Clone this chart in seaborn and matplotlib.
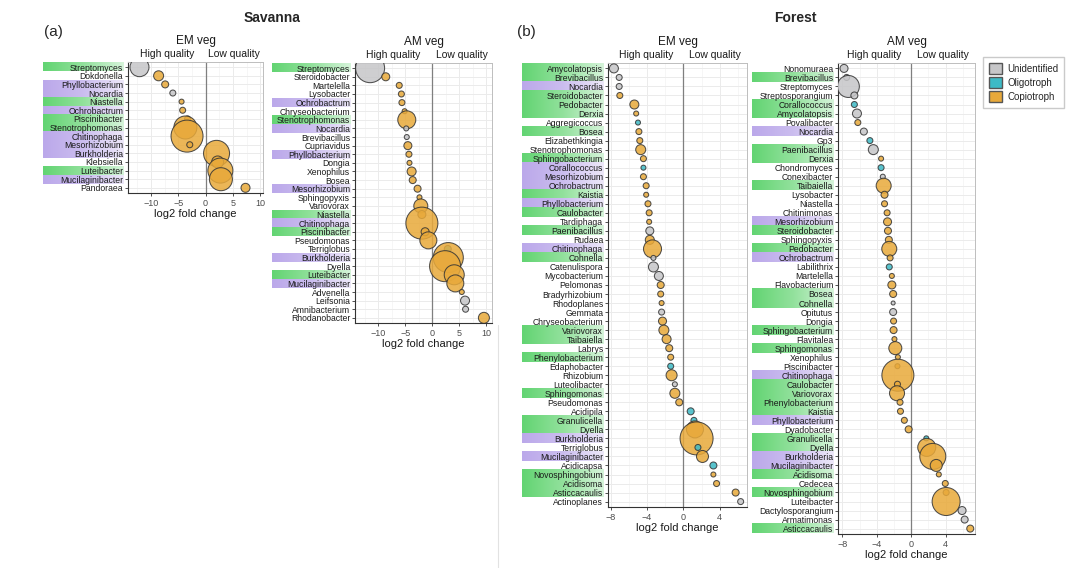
import numpy as np
import pandas as pd
import matplotlib
matplotlib.use("Agg")
import matplotlib.pyplot as plt
from matplotlib.colors import LinearSegmentedColormap
from matplotlib.lines import Line2D
from matplotlib.patches import Patch
import seaborn as sns

# ── Data ─────────────────────────────────────────────────────────────────────
# group: U = Unidentified, O = Oligotroph, C = Copiotroph
# mark : g = green label band, p = purple label band, - = none

SAV_EM_TAXA = ["Streptomyces", "Dokdonella", "Phyllobacterium", "Nocardia", "Niastella",
               "Ochrobactrum", "Piscinibacter", "Stenotrophomonas", "Chitinophaga",
               "Mesorhizobium", "Burkholderia", "Klebsiella", "Luteibacter",
               "Mucilaginibacter", "Pandoraea"]
SAV_EM_LFC = [-12.1, -8.6, -7.4, -6.0, -4.4, -4.2, -3.3, -3.7, -3.4, -2.9, 2.0, 2.2, 2.7, 2.8, 7.3]
SAV_EM_ABUND = [3.61, 1.0, 0.49, 0.36, 0.25, 0.36, 0.36, 5.29, 10.24, 0.36, 6.76, 1.44, 6.25, 5.29, 0.81]
SAV_EM_GROUP = ["U", "C", "C", "U", "C", "C", "C", "C", "C", "C", "C", "C", "C", "C", "C"]
SAV_EM_MARK = ["g", "-", "p", "p", "g", "p", "g", "g", "p", "p", "p", "-", "g", "p", "-"]

SAV_AM_TAXA = ["Streptomyces", "Steroidobacter", "Martelella", "Lysobacter", "Ochrobactrum",
               "Chryseobacterium", "Stenotrophomonas", "Nocardia", "Brevibacillus", "Cupriavidus",
               "Phyllobacterium", "Dongia", "Xenophilus", "Bosea", "Mesorhizobium", "Sphingopyxis",
               "Variovorax", "Niastella", "Chitinophaga", "Piscinibacter", "Pseudomonas",
               "Terriglobus", "Burkholderia", "Dyella", "Luteibacter", "Mucilaginibacter",
               "Advenella", "Leifsonia", "Amnibacterium", "Rhodanobacter"]
SAV_AM_LFC = [-11.5, -8.6, -6.1, -5.7, -5.6, -5.1, -4.7, -4.8, -4.7, -4.5, -4.3, -4.2, -3.8, -3.6,
              -2.7, -2.35, -2.1, -1.9, -1.9, -1.3, -0.7, 2.9, 3.0, 2.4, 4.1, 4.3, 5.5, 6.1, 6.2, 9.6]
SAV_AM_ABUND = [8.41, 0.64, 0.36, 0.36, 0.36, 0.25, 3.24, 0.25, 0.25, 0.64, 0.36, 0.25, 0.81, 0.49,
                0.49, 0.25, 1.96, 0.64, 10.24, 0.64, 2.89, 0.49, 9.0, 9.61, 4.0, 2.89, 0.25, 0.81,
                0.36, 1.21]
SAV_AM_GROUP = ["U", "C", "C", "C", "C", "C", "C", "U", "U", "C", "C", "C", "C", "C", "C", "C",
                "C", "C", "C", "C", "C", "O", "C", "C", "C", "C", "C", "U", "U", "C"]
SAV_AM_MARK = ["g", "-", "-", "-", "p", "-", "g", "p", "-", "-", "p", "-", "-", "-", "p", "-",
               "-", "g", "p", "g", "-", "-", "p", "-", "g", "p", "-", "-", "-", "-"]

FOR_EM_TAXA = ["Amycolatopsis", "Brevibacillus", "Nocardia", "Steroidobacter", "Pedobacter",
               "Derxia", "Aggregicoccus", "Bosea", "Elizabethkingia", "Stenotrophomonas",
               "Sphingobacterium", "Corallococcus", "Mesorhizobium", "Ochrobactrum", "Kaistia",
               "Phyllobacterium", "Caulobacter", "Tardiphaga", "Paenibacillus", "Rudaea",
               "Chitinophaga", "Cohnella", "Catenulispora", "Mycobacterium", "Pelomonas",
               "Bradyrhizobium", "Rhodoplanes", "Gemmata", "Chryseobacterium", "Variovorax",
               "Taibaiella", "Labrys", "Phenylobacterium", "Edaphobacter", "Rhizobium",
               "Luteolibacter", "Sphingomonas", "Pseudomonas", "Acidipila", "Granulicella",
               "Dyella", "Burkholderia", "Terriglobus", "Mucilaginibacter", "Acidicapsa",
               "Novosphingobium", "Acidisoma", "Asticcacaulis", "Actinoplanes"]
FOR_EM_LFC = [-7.65, -7.07, -7.07, -7.0, -5.4, -5.2, -5.0, -4.9, -4.8, -4.7, -4.4, -4.4, -4.4,
              -4.1, -4.1, -3.9, -3.77, -3.77, -3.7, -3.7, -3.4, -3.3, -3.3, -2.7, -2.5, -2.5,
              -2.4, -2.4, -2.3, -2.15, -1.85, -1.56, -1.4, -1.4, -1.3, -0.94, -0.94, -0.46,
              0.8, 1.16, 1.27, 1.45, 1.6, 2.1, 3.3, 3.3, 3.65, 5.75, 6.3]
FOR_EM_ABUND = [0.81, 0.36, 0.36, 0.36, 0.81, 0.25, 0.25, 0.36, 0.36, 1.0, 0.36, 0.25, 0.36,
                0.36, 0.25, 0.36, 0.36, 0.25, 0.64, 0.81, 3.24, 0.25, 1.0, 0.81, 0.49, 0.36,
                0.25, 0.36, 0.64, 1.0, 0.81, 0.49, 0.36, 0.36, 1.21, 0.25, 1.0, 0.49, 0.49,
                0.36, 2.89, 10.89, 0.36, 1.44, 0.49, 0.25, 0.36, 0.49, 0.36]
FOR_EM_GROUP = ["U", "U", "U", "C", "C", "C", "O", "C", "C", "C", "C", "O", "C", "C", "C", "C",
                "C", "C", "U", "C", "C", "U", "U", "U", "C", "C", "C", "U", "C", "C", "C", "C",
                "C", "O", "C", "U", "C", "C", "O", "O", "C", "C", "O", "C", "O", "C", "C", "C", "U"]
FOR_EM_MARK = ["g", "g", "p", "g", "g", "g", "-", "g", "-", "-", "g", "p", "p", "p", "g", "p",
               "g", "-", "g", "-", "p", "g", "-", "-", "-", "-", "-", "-", "-", "g", "g", "-",
               "g", "-", "-", "-", "g", "-", "-", "g", "g", "p", "-", "p", "-", "g", "g", "g", "-"]

FOR_AM_TAXA = ["Nonomuraea", "Brevibacillus", "Streptomyces", "Streptosporangium", "Corallococcus",
               "Amycolatopsis", "Povalibacter", "Nocardia", "Gp3", "Paenibacillus", "Derxia",
               "Chondromyces", "Conexibacter", "Taibaiella", "Lysobacter", "Niastella",
               "Chitinimonas", "Mesorhizobium", "Steroidobacter", "Sphingopyxis", "Pedobacter",
               "Ochrobactrum", "Labilithrix", "Martelella", "Flavobacterium", "Bosea", "Cohnella",
               "Opitutus", "Dongia", "Sphingobacterium", "Flavitalea", "Sphingomonas",
               "Xenophilus", "Piscinibacter", "Chitinophaga", "Caulobacter", "Variovorax",
               "Phenylobacterium", "Kaistia", "Phyllobacterium", "Dyadobacter", "Granulicella",
               "Dyella", "Burkholderia", "Mucilaginibacter", "Acidisoma", "Cedecea",
               "Novosphingobium", "Luteibacter", "Dactylosporangium", "Armatimonas", "Asticcacaulis"]
FOR_AM_LFC = [-7.8, -7.5, -7.3, -6.6, -6.6, -6.3, -6.2, -5.5, -4.8, -4.4, -3.5, -3.5, -3.3, -3.2,
              -3.1, -3.1, -2.8, -2.75, -2.7, -2.6, -2.55, -2.45, -2.55, -2.25, -2.25, -2.1, -2.1,
              -2.1, -2.05, -2.05, -1.95, -1.85, -1.55, -1.6, -1.55, -1.6, -1.65, -1.3, -1.25,
              -0.8, -0.3, 1.75, 1.8, 2.5, 2.9, 3.2, 3.95, 4.05, 4.05, 5.9, 6.2, 6.85]
FOR_AM_ABUND = [0.64, 0.36, 4.84, 0.49, 0.36, 0.81, 0.36, 0.49, 0.36, 1.0, 0.25, 0.36, 0.25,
                2.25, 0.49, 0.36, 0.36, 0.64, 0.49, 0.49, 2.25, 0.36, 0.36, 0.25, 0.64, 0.49,
                0.16, 0.49, 0.36, 0.49, 0.25, 1.69, 0.25, 0.25, 10.24, 0.36, 2.25, 0.36, 0.36,
                0.36, 0.49, 0.25, 3.24, 6.76, 1.44, 0.25, 0.36, 0.36, 7.84, 0.64, 0.49, 0.49]
FOR_AM_GROUP = ["U", "U", "U", "U", "O", "U", "C", "U", "O", "U", "C", "O", "U", "C", "C", "C",
                "C", "C", "C", "C", "C", "C", "O", "C", "C", "C", "U", "U", "C", "C", "C", "C",
                "C", "C", "C", "C", "C", "C", "C", "C", "C", "O", "C", "C", "C", "C", "C", "C",
                "C", "U", "U", "C"]
FOR_AM_MARK = ["-", "g", "-", "-", "g", "g", "-", "p", "-", "g", "g", "-", "-", "g", "-", "-",
               "-", "p", "g", "-", "g", "p", "-", "-", "-", "g", "g", "-", "-", "g", "-", "g",
               "-", "-", "p", "g", "g", "g", "g", "p", "-", "g", "g", "p", "p", "g", "-", "g",
               "-", "-", "-", "g"]

GROUP_NAMES = {"U": "Unidentified", "O": "Oligotroph", "C": "Copiotroph"}
GROUP_COLORS = {"Unidentified": "#c6c6c8", "Oligotroph": "#3dbac6", "Copiotroph": "#e8a93a"}
MARK_CMAPS = {
    "g": LinearSegmentedColormap.from_list("g", ["#62d472", "#92e19c", "#d6f4da"]),
    "p": LinearSegmentedColormap.from_list("p", ["#bba8ea", "#cbbdef", "#ede8f9"]),
}
GRAD = np.linspace(0, 1, 256).reshape(1, -1)

W, H = 1080, 568

sns.set_theme(style="whitegrid")
plt.rcParams["font.family"] = ["Liberation Sans", "DejaVu Sans"]

fig = plt.figure(figsize=(W / 100, H / 100), dpi=100)


def px_rect(x0, y0, x1, y1):
    return [x0 / W, 1 - y1 / H, (x1 - x0) / W, (y1 - y0) / H]


def draw_panel(rect, band_rect, taxa, lfc, abund, group, mark, xlim, major, minor, veg):
    n = len(taxa)
    df = pd.DataFrame({"lfc": lfc, "row": np.arange(n), "abund": abund,
                       "group": [GROUP_NAMES[g] for g in group]})
    ylim = (n - 1 + 0.6, -0.6)

    # coloured bands behind the genus labels
    bg = fig.add_axes(px_rect(*band_rect), zorder=0)
    for i, m in enumerate(mark):
        if m in MARK_CMAPS:
            bg.imshow(GRAD, cmap=MARK_CMAPS[m], extent=(0, 1, i + 0.5, i - 0.5),
                      aspect="auto", interpolation="bicubic")
    bg.set_xlim(0, 1)
    bg.set_ylim(*ylim)
    bg.axis("off")

    ax = fig.add_axes(px_rect(*rect), zorder=1)
    ax.axvline(0, color="#7f7f7f", lw=0.9, zorder=1)
    sns.scatterplot(data=df, x="lfc", y="row", hue="group", palette=GROUP_COLORS,
                    size="abund", sizes=(0, 622), size_norm=(0, 12),
                    edgecolor="#333333", linewidth=0.75, alpha=0.85,
                    legend=False, ax=ax, zorder=3)
    ax.set_xlim(*xlim)
    ax.set_ylim(*ylim)
    ax.set_yticks(np.arange(n))
    ax.set_yticklabels(taxa)
    ax.set_xticks(major)
    ax.set_xticks(minor, minor=True)
    ax.grid(which="major", color="#ebebeb", lw=0.7)
    ax.grid(which="minor", axis="x", color="#f3f3f3", lw=0.5)
    ax.tick_params(axis="y", left=True, length=2.5, width=0.6, color="#333333",
                   labelsize=6.2, pad=1, labelcolor="#1a1a1a")
    ax.tick_params(axis="x", bottom=True, length=2.5, width=0.6, color="#333333",
                   labelsize=6.5, pad=1.5, labelcolor="#4d4d4d")
    ax.tick_params(axis="x", which="minor", length=0)
    for side in ["top", "right"]:
        ax.spines[side].set_color("#bdbdbd")
        ax.spines[side].set_linewidth(0.7)
    for side in ["left", "bottom"]:
        ax.spines[side].set_color("#333333")
        ax.spines[side].set_linewidth(0.8)
    ax.set_ylabel("")
    ax.set_xlabel("log2 fold change", fontsize=8, labelpad=1, color="#1a1a1a")

    for xm, lab in [(xlim[0] / 2, "High quality"), (xlim[1] / 2, "Low quality")]:
        ax.annotate(lab, xy=(xm, 1), xycoords=("data", "axes fraction"), xytext=(0, 2),
                    textcoords="offset points", ha="center", va="bottom", fontsize=7.5,
                    color="#1a1a1a")
    ax.annotate(veg, xy=(0.5, 1), xycoords="axes fraction", xytext=(0, 11),
                textcoords="offset points", ha="center", va="bottom", fontsize=8.5,
                color="#1a1a1a")
    return ax


SAV_MAJOR, SAV_MINOR = [-10, -5, 0, 5, 10], [-12.5, -7.5, -2.5, 2.5, 7.5]
FOR_MAJOR, FOR_MINOR = [-8, -4, 0, 4], [-6, -2, 2, 6]

draw_panel((128, 62, 263, 193), (43, 62, 124, 193), SAV_EM_TAXA, SAV_EM_LFC, SAV_EM_ABUND,
           SAV_EM_GROUP, SAV_EM_MARK, (-14.2, 10.5), SAV_MAJOR, SAV_MINOR, "EM veg")
draw_panel((355, 63, 492, 323), (272, 63, 351, 323), SAV_AM_TAXA, SAV_AM_LFC, SAV_AM_ABUND,
           SAV_AM_GROUP, SAV_AM_MARK, (-14.3, 11.1), SAV_MAJOR, SAV_MINOR, "AM veg")
draw_panel((608, 63, 747, 507), (522, 63, 604, 507), FOR_EM_TAXA, FOR_EM_LFC, FOR_EM_ABUND,
           FOR_EM_GROUP, FOR_EM_MARK, (-8.3, 7.0), FOR_MAJOR, FOR_MINOR, "EM veg")
draw_panel((838, 63, 975, 534), (752, 63, 834, 534), FOR_AM_TAXA, FOR_AM_LFC, FOR_AM_ABUND,
           FOR_AM_GROUP, FOR_AM_MARK, (-8.5, 7.4), FOR_MAJOR, FOR_MINOR, "AM veg")

fig.text(272 / W, 1 - 18 / H, "Savanna", ha="center", va="center", fontsize=10,
         fontweight="bold")
fig.text(795 / W, 1 - 18 / H, "Forest", ha="center", va="center", fontsize=10,
         fontweight="bold")
fig.text(53 / W, 1 - 32 / H, "(a)", ha="center", va="center", fontsize=11)
fig.text(526 / W, 1 - 32 / H, "(b)", ha="center", va="center", fontsize=11)

# faint separator line left over from the original layout
fig.add_artist(Line2D([498 / W, 498 / W], [0, 1 - 325 / H], color="#e2e2e2", lw=0.8))

handles = [Patch(facecolor=GROUP_COLORS[k], edgecolor="#555555", label=k)
           for k in ["Unidentified", "Oligotroph", "Copiotroph"]]
fig.legend(handles=handles, loc="upper left", bbox_to_anchor=(983 / W, 1 - 57 / H),
           borderaxespad=0, frameon=True, fancybox=False, edgecolor="#bdbdbd", fontsize=7,
           handlelength=1.4, handleheight=1.4, borderpad=0.6, labelspacing=0.3,
           handletextpad=0.5)

fig.savefig("out.png", dpi=100)
plt.close(fig)
